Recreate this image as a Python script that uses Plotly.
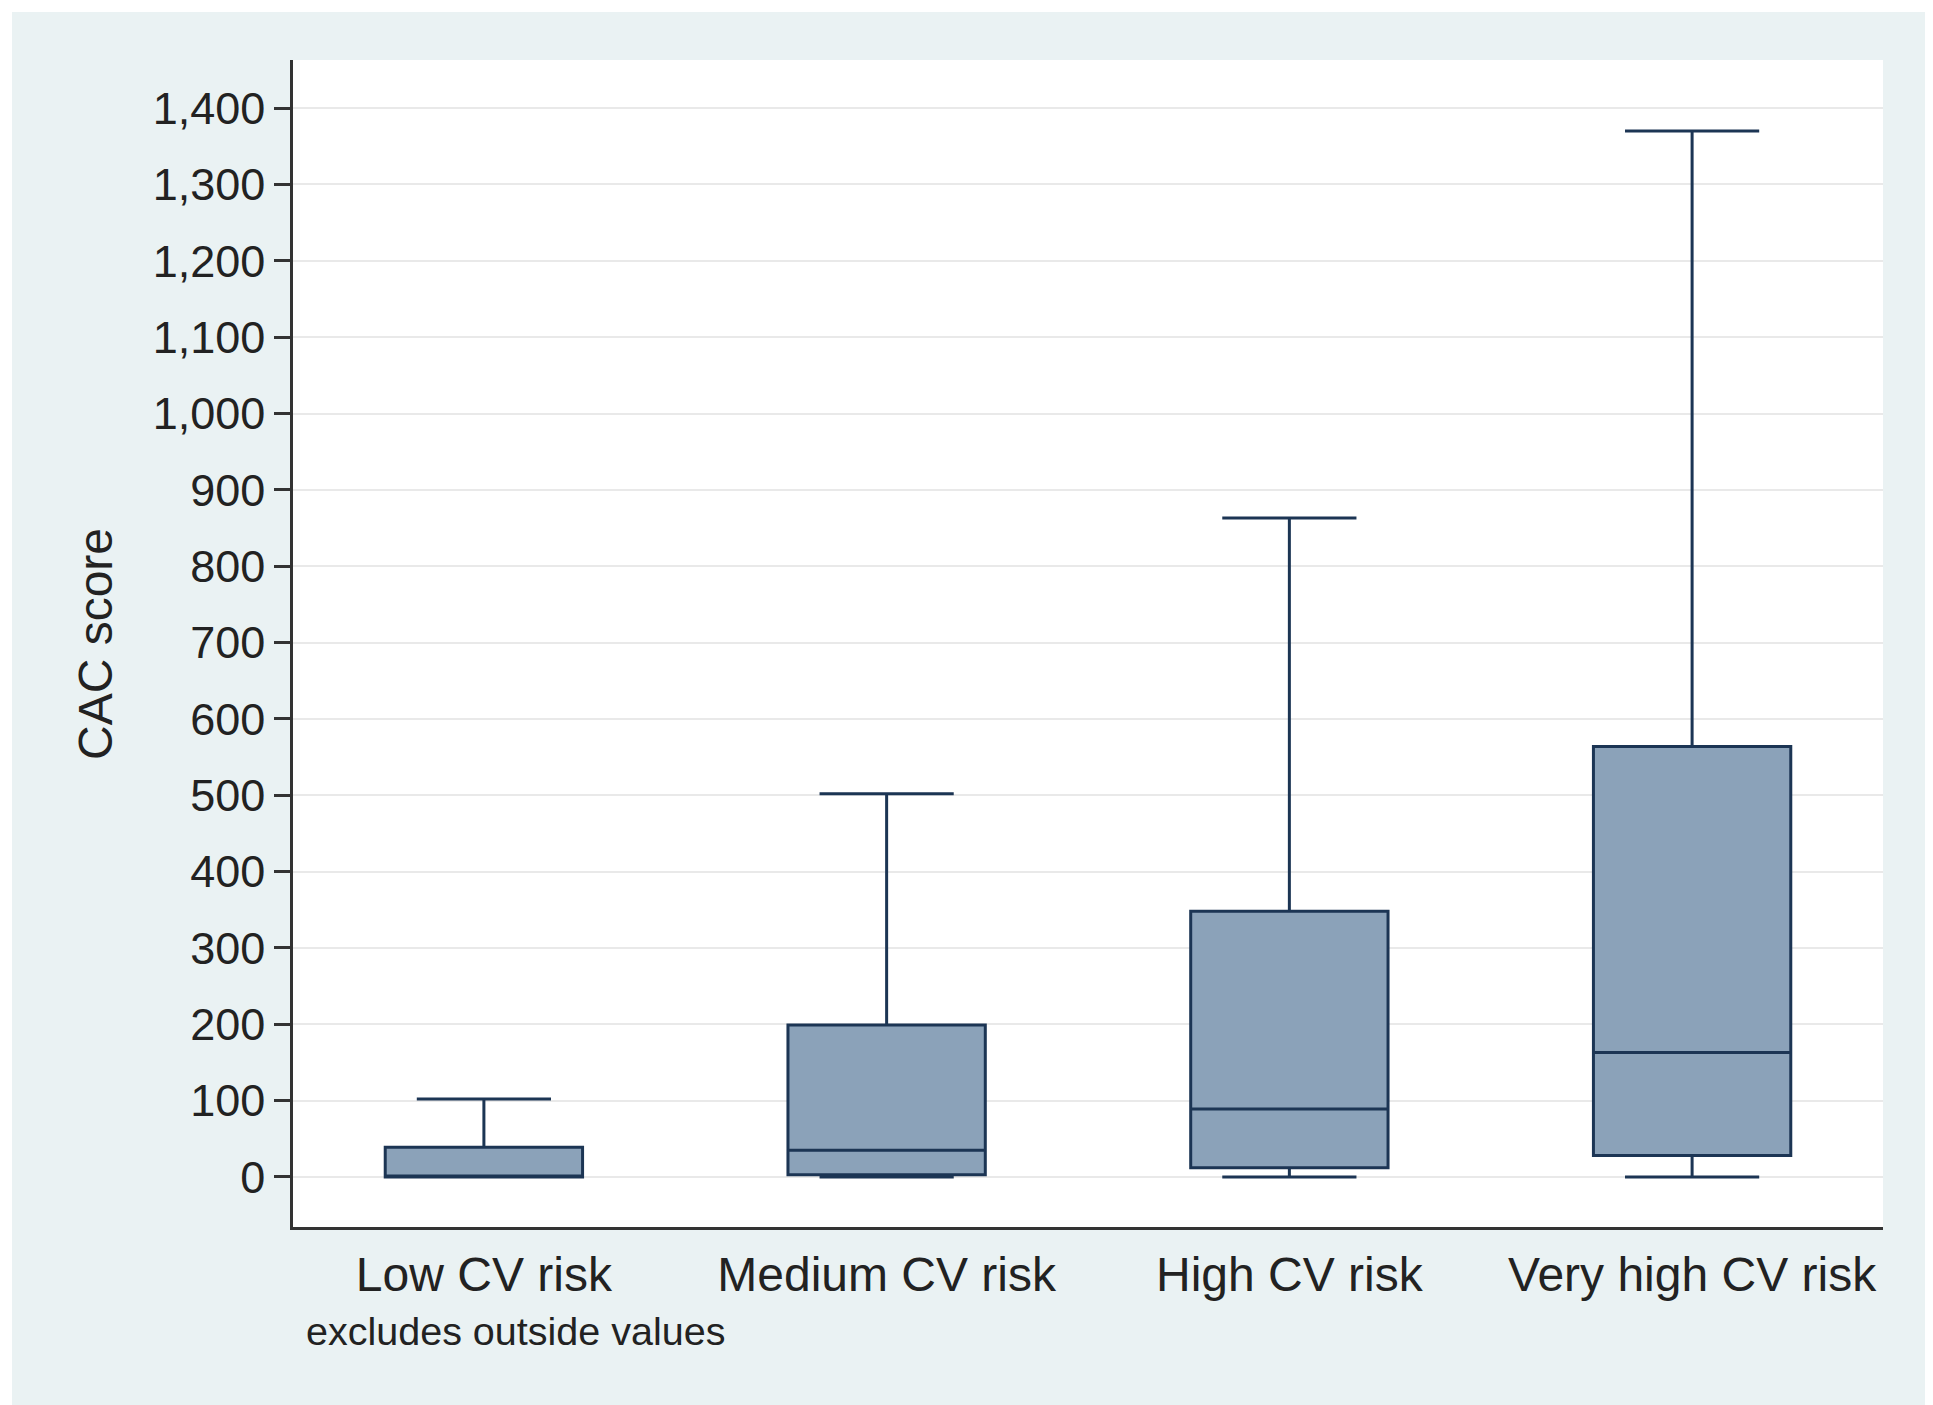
import plotly.graph_objects as go

categories = ["Low CV risk", "Medium CV risk", "High CV risk", "Very high CV risk"]
lower_whisker = [0, 0, 0, 0]
q1_values = [0, 3, 12, 28]
median_values = [1, 35, 89, 163]
q3_values = [39, 199, 348, 564]
upper_whisker = [102, 502, 863, 1370]
y_ticks = list(range(0, 1500, 100))

# page body has an 8px margin; work in page pixels and offset
OFF = 8
PAGE_W, PAGE_H = 1933, 1405
W, H = PAGE_W - OFF, PAGE_H - OFF
PL, PR, PT, PB = 293, 1883, 60, 1227   # plot area in page pixels
L, T = PL - OFF, PT - OFF
R, B = W - (PR - OFF), H - (PB - OFF)
pw, ph = PR - PL, PB - PT

FONT = "Liberation Sans, Arial, Helvetica, sans-serif"
FILL = "#8BA2B9"
LINE = "#1C3554"

fig = go.Figure()
fig.add_trace(go.Box(
    x=categories,
    q1=q1_values,
    median=median_values,
    q3=q3_values,
    lowerfence=lower_whisker,
    upperfence=upper_whisker,
    boxpoints=False,
    width=0.49,
    whiskerwidth=0.68,
    fillcolor=FILL,
    line=dict(color=LINE, width=3),
    showlegend=False,
))

def px_x(x):  # page pixel -> paper
    return (x - PL) / pw

def px_y(y):
    return (PB - y) / ph

fig.update_layout(
    width=W, height=H,
    margin=dict(l=L, r=R, t=T, b=B),
    paper_bgcolor="#EAF2F3",
    plot_bgcolor="white",
    font=dict(family=FONT, color="#222222"),
    xaxis=dict(
        type="category",
        range=[-0.474, 3.474],
        showline=True, linecolor="#333333", linewidth=2.5,
        showgrid=False, zeroline=False,
        ticks="outside", ticklen=4, tickcolor="rgba(0,0,0,0)",
        tickfont=dict(size=48, family=FONT, color="#222222"),
    ),
    yaxis=dict(
        range=[-65.5, 1463],
        tickmode="array", tickvals=y_ticks,
        ticktext=[f"{v:,}" for v in y_ticks],
        showline=True, linecolor="#333333", linewidth=2.5,
        showgrid=True, gridcolor="#E9E9E9", gridwidth=2,
        zeroline=False,
        ticks="outside", ticklen=16, tickwidth=2.5, tickcolor="#333333",
        tickfont=dict(size=45, family=FONT, color="#222222"),
    ),
    annotations=[
        dict(text="CAC score", xref="paper", yref="paper",
             x=px_x(95), y=px_y(644), xanchor="center", yanchor="middle",
             textangle=-90, showarrow=False,
             font=dict(size=48, family=FONT, color="#222222")),
        dict(text="excludes outside values", xref="paper", yref="paper",
             x=px_x(304), y=px_y(1331), xanchor="left", yanchor="middle",
             showarrow=False,
             font=dict(size=39.5, family=FONT, color="#222222")),
    ],
    shapes=[
        dict(type="rect", xref="paper", yref="paper", layer="above",
             x0=px_x(0), x1=px_x(12), y0=px_y(PAGE_H + 5), y1=px_y(0),
             fillcolor="white", line=dict(width=0)),
        dict(type="rect", xref="paper", yref="paper", layer="above",
             x0=px_x(0), x1=px_x(PAGE_W + 5), y0=px_y(12), y1=px_y(0),
             fillcolor="white", line=dict(width=0)),
    ],
)

fig.write_html("out.html")
